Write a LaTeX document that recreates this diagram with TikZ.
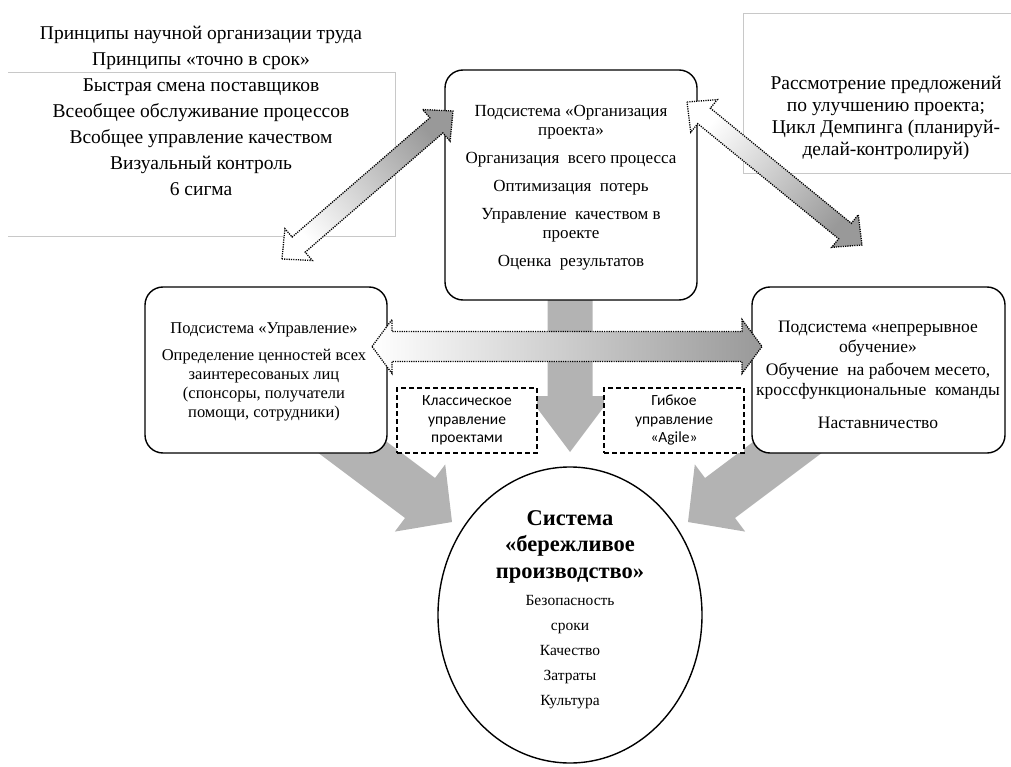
\documentclass[tikz,border=0pt]{standalone}
\usepackage{fontspec}
\setmainfont{Liberation Serif}
\newfontfamily\calib{Carlito}
\usetikzlibrary{calc,shapes.geometric}
\definecolor{bgray}{RGB}{179,179,179}
\definecolor{fgray}{RGB}{200,200,200}
\newcommand{\hstr}[1]{\rule{0pt}{#1pt}}
% double arrow: style, from, to, shaft half, head half, head length
\newcommand{\dblarr}[6]{%
 \path[#1] (#2)
 -- ($(#2)!#6!(#3)!#5!90:(#3)$)
 -- ($(#2)!#6!(#3)!#4!90:(#3)$)
 -- ($(#3)!#6!(#2)!#4!-90:(#2)$)
 -- ($(#3)!#6!(#2)!#5!-90:(#2)$)
 -- (#3)
 -- ($(#3)!#6!(#2)!#5!90:(#2)$)
 -- ($(#3)!#6!(#2)!#4!90:(#2)$)
 -- ($(#2)!#6!(#3)!#4!-90:(#3)$)
 -- ($(#2)!#6!(#3)!#5!-90:(#3)$)
 -- cycle;}
% single arrow: style, from, to, shaft half, head half, head length
\newcommand{\sarr}[6]{%
 \path[#1] ($(#2)!#4!90:(#3)$)
 -- ($(#3)!#6!(#2)!#4!-90:(#2)$)
 -- ($(#3)!#6!(#2)!#5!-90:(#2)$)
 -- (#3)
 -- ($(#3)!#6!(#2)!#5!90:(#2)$)
 -- ($(#3)!#6!(#2)!#4!90:(#2)$)
 -- ($(#2)!#4!-90:(#3)$)
 -- cycle;}
\tikzset{
 frame/.style={draw=fgray, line width=0.8pt},
 sysbox/.style={draw, line width=1.4pt, rounded corners=18pt, fill=white},
 boxtxt/.style={align=center, anchor=north, inner sep=0pt, font=\fontsize{16.5}{19}\selectfont},
 bigtxt/.style={align=center, anchor=north, inner sep=0pt},
 dbox/.style={draw, dash pattern=on 5pt off 3pt, line width=1.3pt, fill=white, align=center,
   font=\calib\fontsize{15.5}{18.5}\selectfont, minimum width=140pt, minimum height=65pt, inner sep=0pt},
 dotarr/.style={draw, line width=1.3pt, dash pattern=on 1.2pt off 1.1pt},
 bigarr/.style={fill=bgray},
}
\begin{document}
\begin{tikzpicture}[x=1pt,y=-1pt]
\useasboundingbox (0,0) rectangle (1011,767);
% text frames
\draw[frame] (8,72) -- (395,72) -- (395,236) -- (8,236);
\draw[frame] (1011,13) -- (743,13) -- (743,173) -- (1011,173);
\node[bigtxt, font=\fontsize{19.5}{26}\selectfont] (princ) at (201,25) {\hstr{14}Принципы научной организации труда\\
Принципы «точно в срок»\\
Быстрая смена поставщиков\\
Всеобщее обслуживание процессов\\
Всобщее управление качеством\\
Визуальный контроль\\
6 сигма};
\node[bigtxt, font=\fontsize{19.5}{22}\selectfont] (rass) at (886,75) {\hstr{14}Рассмотрение предложений\\
по улучшению проекта;\\
Цикл Демпинга (планируй-\\
делай-контролируй)};
% big gray arrows (behind boxes)
\coordinate (lA0) at (324,426);
\coordinate (lA1) at (452,522);
\coordinate (rA0) at (816,426);
\coordinate (rA1) at (688,522);
\coordinate (dA0) at (570,290);
\coordinate (dA1) at (570,452);
\sarr{bigarr}{lA0}{lA1}{25pt}{42pt}{40pt}
\sarr{bigarr}{rA0}{rA1}{25pt}{42pt}{40pt}
\sarr{bigarr}{dA0}{dA1}{22.5pt}{42pt}{56pt}
% boxes
\node[sysbox, minimum width=252pt, minimum height=230pt] (org) at (571,185) {};
\node[boxtxt, font=\fontsize{17}{19}\selectfont] (orgt) at (571,104) {\hstr{12}Подсистема «Организация\\
проекта»\\[9pt]
Организация\ \ всего процесса\\[9pt]
Оптимизация\ \ потерь\\[9pt]
Управление\ \ качеством в\\
проекте\\[9pt]
Оценка\ \ результатов};
\node[sysbox, minimum width=242pt, minimum height=166pt] (upr) at (266,370) {};
\node[boxtxt] (uprt) at (264,321) {\hstr{12}Подсистема «Управление»\\[8pt]
Определение ценностей всех\\
заинтересованых лиц\\
(спонсоры, получатели\\
помощи, сотрудники)};
\node[sysbox, minimum width=253pt, minimum height=166pt] (obu) at (878.5,370) {};
\node[boxtxt, font=\fontsize{17.5}{20}\selectfont] (obut) at (878,320) {\hstr{12.5}Подсистема «непрерывное\\
обучение»\\[3pt]
Обучение\ \ на рабочем месето,\\
кроссфункциональные\ \ команды\\[13pt]
Наставничество};
\node[dbox] (klas) at (467,420.5) {Классическое\\управление\\проектами};
\node[dbox] (gib) at (674,420.5) {Гибкое\\управление\\«Agile»};
% ellipse
\node[ellipse, draw, line width=1.4pt, fill=white, minimum width=264pt, minimum height=296pt, inner sep=0pt] (lean) at (570,615) {};
\node[bigtxt, font=\bfseries\fontsize{22.5}{26.5}\selectfont] (leant) at (570,509) {\hstr{16}Система\\«бережливое\\производство»};
\node[bigtxt, font=\fontsize{15.5}{25}\selectfont] (leanl) at (570,593.5) {\hstr{11.5}Безопасность\\сроки\\Качество\\Затраты\\Культура};
% dotted gradient double arrows
\coordinate (tl0) at (282,259);
\coordinate (tl1) at (453,111);
\coordinate (tr0) at (687,102);
\coordinate (tr1) at (862,245);
\coordinate (h0) at (372,346.5);
\coordinate (h1) at (762,346.5);
\dblarr{dotarr, left color=white, right color=gray!80, shading angle=130}{tl0}{tl1}{10pt}{21pt}{22pt}
\dblarr{dotarr, left color=white, right color=gray!80, shading angle=50}{tr0}{tr1}{10pt}{21pt}{22pt}
\dblarr{dotarr, left color=white, right color=gray!80}{h0}{h1}{15pt}{27pt}{20pt}
\end{tikzpicture}
\end{document}
